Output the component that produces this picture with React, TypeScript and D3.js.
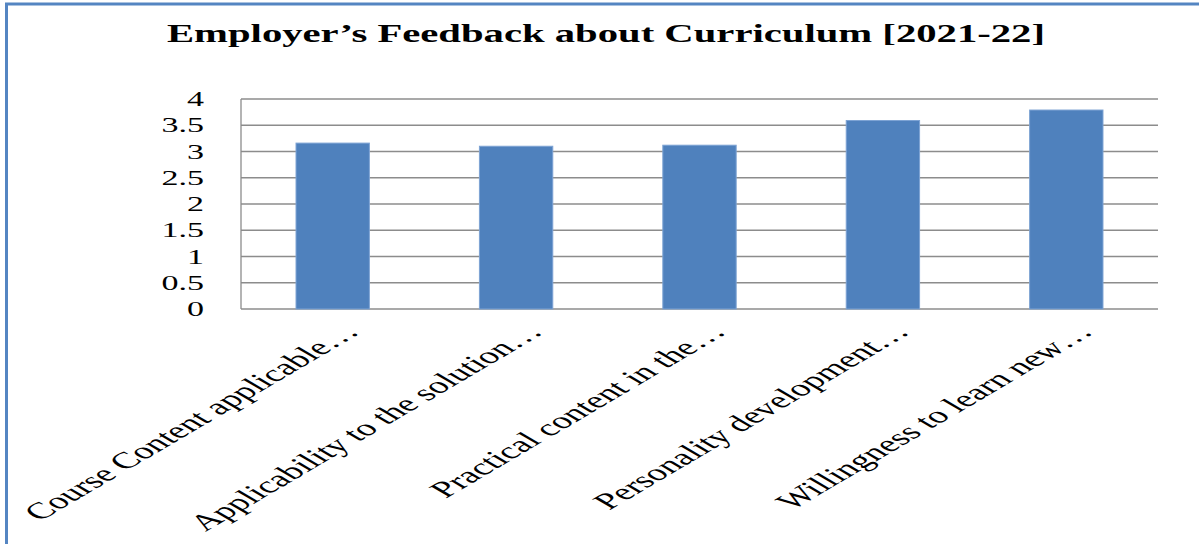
import React, { useEffect, useRef } from "react";
import * as d3 from "d3";

const categories = [
  "Course Content applicable…",
  "Applicability to the solution…",
  "Practical content in the…",
  "Personality development…",
  "Willingness to learn new…",
];
const values = [3.16, 3.1, 3.12, 3.59, 3.79];
const yTicks = [0, 0.5, 1, 1.5, 2, 2.5, 3, 3.5, 4];
const yTickLabels = ["0", "0.5", "1", "1.5", "2", "2.5", "3", "3.5", "4"];
const title = "Employer’s Feedback about Curriculum [2021-22]";

const W = 1199;
const H = 544;
const M = { left: 241, right: 1158, top: 99, bottom: 309 };
const SX = 1.7;
const LSX = 1.7;

export default function App() {
  const ref = useRef<SVGSVGElement>(null);

  useEffect(() => {
    const svg = d3.select(ref.current);
    svg.selectAll("*").remove();

    svg.append("rect").attr("width", W).attr("height", H).attr("fill", "#fff");

    // frame
    svg
      .append("rect")
      .attr("x", 6.5)
      .attr("y", 4)
      .attr("width", W + 50)
      .attr("height", H + 50)
      .attr("fill", "none")
      .attr("stroke", "#5485c2")
      .attr("stroke-width", 3);

    const x = d3
      .scaleBand<string>()
      .domain(categories)
      .range([M.left, M.right])
      .paddingInner(0.6)
      .paddingOuter(0.3);
    const y = d3.scaleLinear().domain([0, 4]).range([M.bottom, M.top]);

    // title
    svg
      .append("text")
      .attr("x", 606)
      .attr("y", 42)
      .attr("text-anchor", "middle")
      .attr("font-family", "Liberation Serif, Times New Roman, serif")
      .attr("font-weight", "bold")
      .attr("font-size", 25)
      .attr("textLength", 878)
      .attr("lengthAdjust", "spacingAndGlyphs")
      .attr("fill", "#000")
      .text(title);

    // gridlines
    svg
      .append("g")
      .selectAll("line")
      .data(yTicks)
      .join("line")
      .attr("x1", M.left)
      .attr("x2", M.right)
      .attr("y1", (d) => y(d))
      .attr("y2", (d) => y(d))
      .attr("stroke", "#8c8c8c")
      .attr("stroke-width", 1.3);

    // left axis line
    svg
      .append("line")
      .attr("x1", M.left)
      .attr("x2", M.left)
      .attr("y1", M.top)
      .attr("y2", M.bottom)
      .attr("stroke", "#8c8c8c")
      .attr("stroke-width", 1.3);

    // y tick labels
    svg
      .append("g")
      .selectAll("text")
      .data(yTicks)
      .join("text")
      .attr("transform", (d) => `translate(204,${y(d)}) scale(${SX},1)`)
      .attr("dy", "0.35em")
      .attr("text-anchor", "end")
      .attr("font-family", "Liberation Serif, Times New Roman, serif")
      .attr("font-size", 20)
      .attr("fill", "#000")
      .text((d, i) => yTickLabels[i]);

    // bars
    svg
      .append("g")
      .selectAll("rect")
      .data(values)
      .join("rect")
      .attr("x", (d, i) => x(categories[i])!)
      .attr("y", (d) => y(d))
      .attr("width", x.bandwidth())
      .attr("height", (d) => y(0) - y(d))
      .attr("fill", "#4f81bd")
      .attr("stroke", "#7da3d4")
      .attr("stroke-width", 1);

    // x labels
    svg
      .append("g")
      .selectAll("text")
      .data(categories)
      .join("text")
      .attr(
        "transform",
        (d) =>
          `translate(${x(d)! + x.bandwidth() / 2 + 28},${M.bottom + 24}) scale(${LSX},1) rotate(-45)`
      )
      .attr("text-anchor", "end")
      .attr("font-family", "Liberation Serif, Times New Roman, serif")
      .attr("font-size", 23)
      .attr("fill", "#000")
      .text((d) => d);
  }, []);

  return (
    <svg
      ref={ref}
      width={W}
      height={H}
      style={{ position: "fixed", left: 0, top: 0, display: "block" }}
    />
  );
}
